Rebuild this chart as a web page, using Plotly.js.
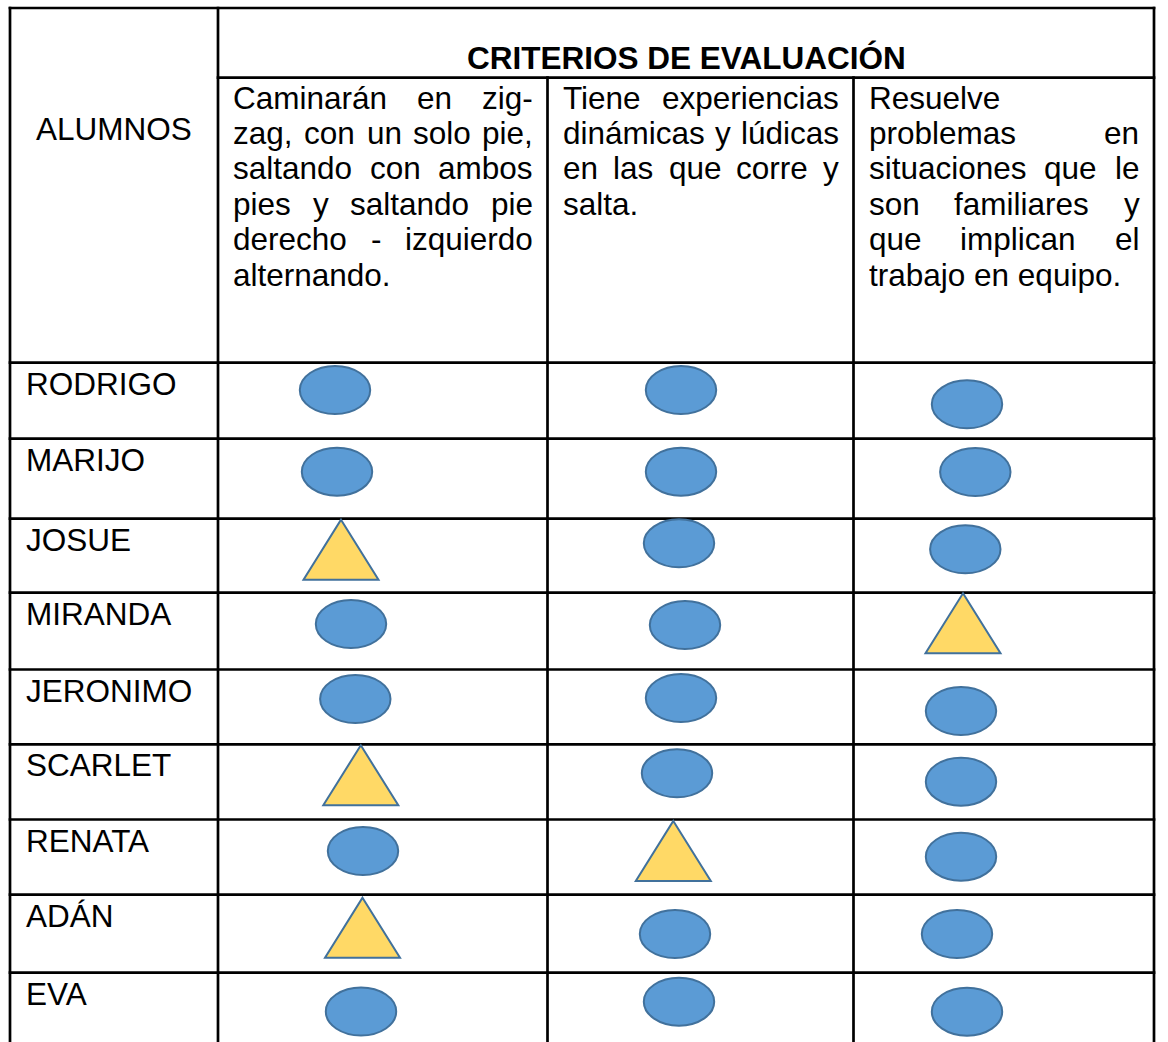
<!DOCTYPE html>
<html><head><meta charset="utf-8">
<script src="https://cdn.plot.ly/plotly-3.0.1.min.js"></script>
<style>html,body{margin:0;padding:0;background:#fff;overflow:hidden}</style>
</head><body><div id="chart" style="width:1168px;height:1042px"></div>
<script>
// ---------------- DATA ----------------
const headerTitle = 'CRITERIOS DE EVALUACIÓN';
const studentsHeader = 'ALUMNOS';
const students = ['RODRIGO','MARIJO','JOSUE','MIRANDA','JERONIMO','SCARLET','RENATA','ADÁN','EVA'];
const criterion1Lines = ['Caminarán en zig-','zag, con un solo pie,','saltando con ambos','pies y saltando pie','derecho - izquierdo','alternando.'];
const criterion2Lines = ['Tiene experiencias','dinámicas y lúdicas','en las que corre y','salta.'];
const criterion3Lines = ['Resuelve','problemas en','situaciones que le','son familiares y','que implican el','trabajo en equipo.'];
// evaluation result per student: 'circle' (logrado) or 'triangle' (en proceso)
const criterion1Marks = ['circle','circle','triangle','circle','circle','triangle','circle','triangle','circle'];
const criterion2Marks = ['circle','circle','circle','circle','circle','circle','triangle','circle','circle'];
const criterion3Marks = ['circle','circle','circle','triangle','circle','circle','circle','circle','circle'];

// ---------------- LAYOUT (table geometry, hand placement) ----------------
const W = 1168, H = 1042;
const colEdges = [10, 218, 547.5, 853.5, 1154];
const tableTop = 8, headerSplit = 77.7, tableBottom = 1046;
const rowTops = [362.7, 438.7, 518.6, 592.7, 669.5, 744.3, 819.5, 894.7, 972.7];
// hand placement of the drawn marks inside each cell (centre x, centre offset below row top)
const place1X = [335, 337, 341, 351, 355.3, 360.8, 363, 362.5, 361];
const place1Dy = [27.3, 33, 31.1, 31.3, 29.5, 31, 31.5, 33, 38.8];
const place2X = [681, 681, 679, 685, 681, 677, 673.3, 675, 679];
const place2Dy = [27.3, 33, 24.7, 32.3, 28.5, 29, 31.5, 39.3, 29];
const place3X = [967, 975.3, 965.3, 963, 961, 961, 961, 957, 967];
const place3Dy = [41.6, 33.3, 30.7, 30.6, 41.5, 37.4, 37.2, 39.3, 39];

const FONT = 'Liberation Sans, Arial, sans-serif';
const FS = 31.5;
const lineColor = '#000000';
const lineW = 2.7;
const circleFill = '#5B9BD5', triFill = '#FFD966', markStroke = '#41719C';
const ellRx = 35.2, ellRy = 24.0, triHalfW = 37.5, triH = 60;

const shapes = [];
const annotations = [];

function hLine(y, x0, x1) {
  shapes.push({type:'line', xref:'x', yref:'y', x0:x0 - lineW/2, x1:x1 + lineW/2, y0:y, y1:y,
    line:{color:lineColor, width:lineW}});
}
function vLine(x, y0, y1) {
  shapes.push({type:'line', xref:'x', yref:'y', x0:x, x1:x, y0:y0 - lineW/2, y1:y1,
    line:{color:lineColor, width:lineW}});
}

// grid
const L = colEdges[0], R = colEdges[colEdges.length - 1];
hLine(tableTop, L, R);
hLine(headerSplit, colEdges[1], R);
rowTops.forEach(y => hLine(y, L, R));
vLine(colEdges[0], tableTop, tableBottom);
vLine(colEdges[1], tableTop, tableBottom);
vLine(colEdges[2], headerSplit, tableBottom);
vLine(colEdges[3], headerSplit, tableBottom);
vLine(colEdges[4], tableTop, tableBottom);

// text helpers
const canvas = document.createElement('canvas');
const ctx = canvas.getContext('2d');
ctx.font = FS + 'px "Liberation Sans"';
function measure(t) { return ctx.measureText(t).width; }

function textAt(x, y, text, xanchor, bold) {
  annotations.push({xref:'x', yref:'y', x:x, y:y, text: bold ? '<b>' + text + '</b>' : text,
    showarrow:false, xanchor:xanchor, yanchor:'middle', borderpad:0,
    font:{family:FONT, size:FS, color:'#000000'}});
}

function paragraph(lines, left, right, firstY, spacing) {
  lines.forEach((ln, i) => {
    const y = firstY + i * spacing;
    const words = ln.split(' ');
    const isLast = i === lines.length - 1;
    if (isLast || words.length < 2) { textAt(left, y, ln, 'left'); return; }
    const widths = words.map(measure);
    const total = widths.reduce((a, b) => a + b, 0);
    const gap = (right - left - total) / (words.length - 1);
    let x = left;
    words.forEach((w, k) => { textAt(x, y, w, 'left'); x += widths[k] + gap; });
  });
}

// headers
textAt((colEdges[1] + colEdges[4]) / 2, 57.5, headerTitle, 'center', true);
textAt((colEdges[0] + colEdges[1]) / 2, 129.2, studentsHeader, 'center');
const padL = 14.3, padR = 15.5, firstLineY = 97.6, lineSpacing = 35.4;
paragraph(criterion1Lines, colEdges[1] + padL, colEdges[2] - padR, firstLineY, lineSpacing);
paragraph(criterion2Lines, colEdges[2] + padL, colEdges[3] - padR, firstLineY, lineSpacing);
paragraph(criterion3Lines, colEdges[3] + padL, colEdges[4] - padR, firstLineY, lineSpacing);

// student names
students.forEach((s, i) => textAt(colEdges[0] + 14.5, rowTops[i] + 21, s, 'left'));

// marks
function addMarks(marks, px, pdy) {
  marks.forEach((m, i) => {
    const cx = px[i], cy = rowTops[i] + pdy[i];
    if (m === 'circle') {
      shapes.push({type:'circle', xref:'x', yref:'y', x0:cx - ellRx, x1:cx + ellRx, y0:cy - ellRy, y1:cy + ellRy,
        fillcolor:circleFill, line:{color:markStroke, width:2}});
    } else {
      const top = cy - triH / 2, bot = cy + triH / 2;
      shapes.push({type:'path', xref:'x', yref:'y',
        path:`M ${cx} ${top} L ${cx + triHalfW} ${bot} L ${cx - triHalfW} ${bot} Z`,
        fillcolor:triFill, line:{color:markStroke, width:2}});
    }
  });
}
addMarks(criterion1Marks, place1X, place1Dy);
addMarks(criterion2Marks, place2X, place2Dy);
addMarks(criterion3Marks, place3X, place3Dy);

const layout = {
  width: W, height: H,
  margin: {l:0, r:0, t:0, b:0},
  paper_bgcolor: '#ffffff', plot_bgcolor: '#ffffff',
  xaxis: {range:[0, W], visible:false, showgrid:false, zeroline:false, fixedrange:true},
  yaxis: {range:[H, 0], visible:false, showgrid:false, zeroline:false, fixedrange:true},
  showlegend: false,
  shapes: shapes,
  annotations: annotations
};
Plotly.newPlot('chart', [{x:[], y:[], type:'scatter', mode:'markers', hoverinfo:'skip'}], layout, {staticPlot:true, displayModeBar:false});
</script>
</body></html>
